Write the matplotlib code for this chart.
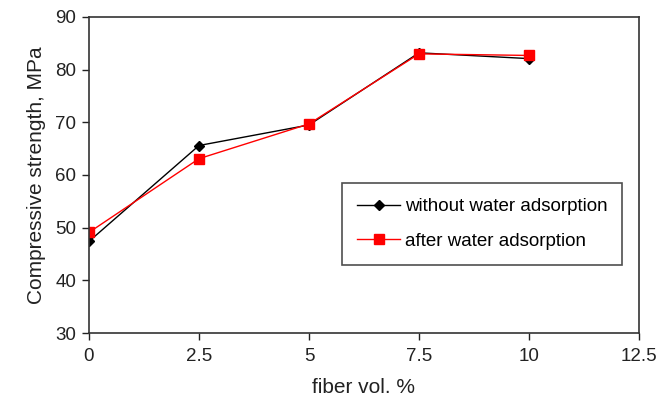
import matplotlib
matplotlib.use("Agg")
import matplotlib.pyplot as plt

plt.rcParams['font.family'] = ['Liberation Sans', 'DejaVu Sans']

fiber = [0, 2.5, 5, 7.5, 10]
without_water = [47.4, 65.6, 69.5, 83.2, 82.1]
after_water = [49.1, 63.1, 69.7, 83.0, 82.7]
xticks = [0, 2.5, 5, 7.5, 10, 12.5]
xticklabels = ['0', '2.5', '5', '7.5', '10', '12.5']
yticks = [30, 40, 50, 60, 70, 80, 90]

fig = plt.figure(figsize=(6.71, 3.97), dpi=100)
ax = fig.add_axes([89/671, 1-333/397, (639-89)/671, (333-17)/397])

ax.plot(fiber, without_water, color='black', lw=1.0, marker='D', ms=5.5,
        label='without water adsorption')
ax.plot(fiber, after_water, color='red', lw=1.0, marker='s', ms=6.5,
        label='after water adsorption')

ax.set_xlim(0, 12.5)
ax.set_ylim(30, 90)
ax.set_xticks(xticks)
ax.set_xticklabels(xticklabels)
ax.set_yticks(yticks)
ax.tick_params(axis='both', direction='out', length=5, width=1.0,
               labelsize=13.5, colors='#222222')
ax.tick_params(axis='x', pad=6)
ax.tick_params(axis='y', pad=4)
for s in ax.spines.values():
    s.set_linewidth(1.2)
    s.set_color('#333333')

ax.set_xlabel('fiber vol. %', fontsize=15, color='#222222', labelpad=9)
ax.set_ylabel('Compressive strength, MPa', fontsize=15, color='#222222', labelpad=7)

leg = ax.legend(loc='upper left', bbox_to_anchor=((342-89)/550, (333-183)/316),
                fontsize=13.5, frameon=True, fancybox=False, edgecolor='#222222',
                handlelength=2.3, handletextpad=0.25, borderpad=0.8,
                labelspacing=0.95, borderaxespad=0)
leg.get_frame().set_linewidth(1.2)

fig.savefig('out.png', dpi=100)
